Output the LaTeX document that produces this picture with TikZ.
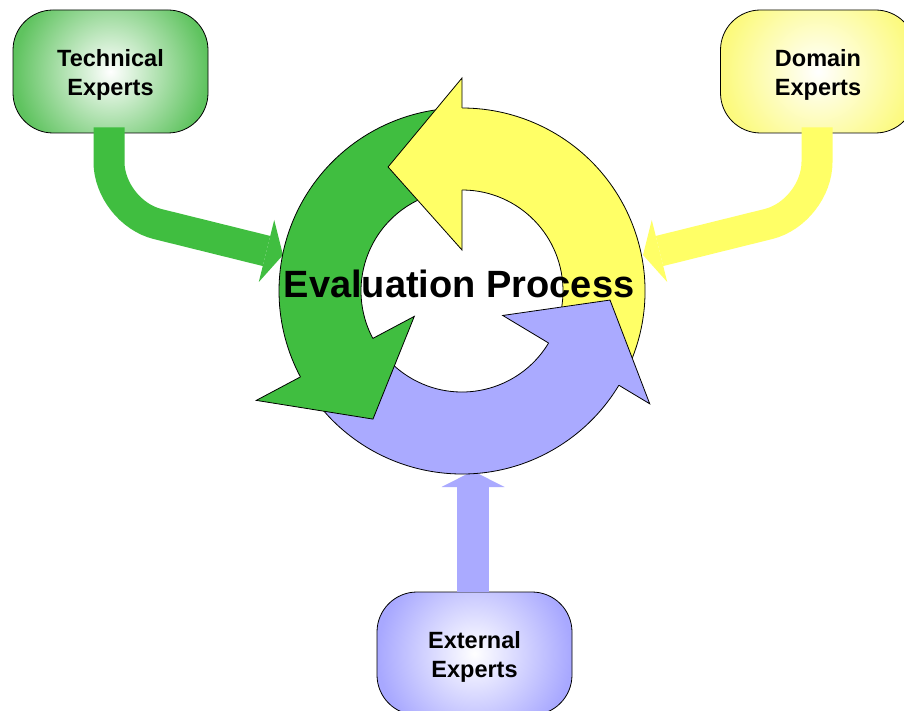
\documentclass[tikz,border=0pt]{standalone}
\usepackage{fontspec}
\setmainfont{Liberation Sans}
\usetikzlibrary{calc}
\definecolor{cgreen}{RGB}{64,190,64}
\definecolor{cyellow}{RGB}{255,255,102}
\definecolor{cblue}{RGB}{170,170,255}
\definecolor{bgreen}{RGB}{95,195,95}
\definecolor{byellow}{RGB}{252,250,125}
\definecolor{bblue}{RGB}{168,168,255}
\pgfdeclareradialshading{glowgreen}{\pgfpoint{0bp}{0bp}}{color(0bp)=(white); color(22bp)=(bgreen); color(50bp)=(bgreen)}
\pgfdeclareradialshading{glowyellow}{\pgfpoint{0bp}{0bp}}{color(0bp)=(white); color(22bp)=(byellow); color(50bp)=(byellow)}
\pgfdeclareradialshading{glowblue}{\pgfpoint{0bp}{0bp}}{color(0bp)=(white); color(22bp)=(bblue); color(50bp)=(bblue)}
\newcommand\RingBody[3]{%
  \path[ringline, fill=#1] (#2:183pt) arc[start angle=#2, end angle=#3, radius=183pt]
    -- (#3:101pt) arc[start angle=#3, end angle=#2, radius=101pt] -- cycle;}
\newcommand\RingHead[6]{%
  \fill[#1] (#2:#3pt) -- (#2:#4pt) -- (#5:#6pt) -- cycle;
  \draw[ringline] (#2:183pt) -- (#2:#4pt) -- (#5:#6pt) -- (#2:#3pt) -- (#2:101pt);}
\newcommand\TopStrut{\rule{0pt}{23pt}}
\begin{document}
\begin{tikzpicture}[x=1pt,y=1pt,
  expert/.style={draw=black, line width=0.8pt, rounded corners=40pt,
    minimum width=195pt, minimum height=123pt, align=center,
    font=\fontsize{23.5}{29}\selectfont\bfseries,
    path picture={\shade[shading=#1] (path picture bounding box.center) circle[radius=110pt];}},
  ringline/.style={draw=black, line width=0.8pt, line join=miter},
  feed/.style={line width=31pt, rounded corners=50pt}]
\useasboundingbox (0,0) rectangle (904,710);
\clip (0,0) rectangle (904,710);
\fill[white] (0,0) rectangle (904,710);

% expert boxes
\node[expert=glowgreen] (tech) at (110.5,638.5) {\TopStrut Technical\\Experts};
\node[expert=glowyellow] (dom) at (818,638.5) {\TopStrut Domain\\Experts};
\node[expert=glowblue] (ext) at (474.5,56.5) {\TopStrut External\\Experts};

% connector points
\coordinate (gbend) at (109,498);
\coordinate (gbase) at (266.5,459);
\coordinate (gtip) at (283,455);
\coordinate (ybend) at (817,498);
\coordinate (ybase) at (659.5,459);
\coordinate (ytip) at (643,455);
\coordinate (bbase) at (473,223);
\coordinate (btip) at (473,239);

% green connector
\draw[feed, cgreen] ([xshift=-1.5pt,yshift=6pt]tech.south) -- (gbend) -- (gbase);
\fill[cgreen] (274.2,490) -- (gtip) -- (258.8,428) -- cycle;
% yellow connector
\draw[feed, cyellow] ([xshift=-1pt,yshift=6pt]dom.south) -- (ybend) -- (ybase);
\fill[cyellow] (651.8,490) -- (ytip) -- (667.2,428) -- cycle;
% blue connector
\draw[line width=32pt, cblue] ([xshift=-1.5pt]ext.north) -- (bbase);
\fill[cblue] (441.5,223) -- (btip) -- (504.5,223) -- cycle;

% ring of arrows
\coordinate (C) at (462,419);
\begin{scope}[shift={(C)}]
  \RingBody{cyellow}{-25}{92}
  \RingBody{cgreen}{96}{210}
  \RingBody{cblue}{214}{331}
  \RingHead{cyellow}{90}{41}{213}{120.8}{144.4}
  \RingHead{cgreen}{208}{54}{233}{235.2}{156}
  \RingHead{cblue}{329}{47.5}{219}{356.5}{148.3}
\end{scope}

\node[font=\fontsize{38}{40}\selectfont\bfseries, anchor=base] (title) at (459,412) {Evaluation Process};
\end{tikzpicture}
\end{document}
